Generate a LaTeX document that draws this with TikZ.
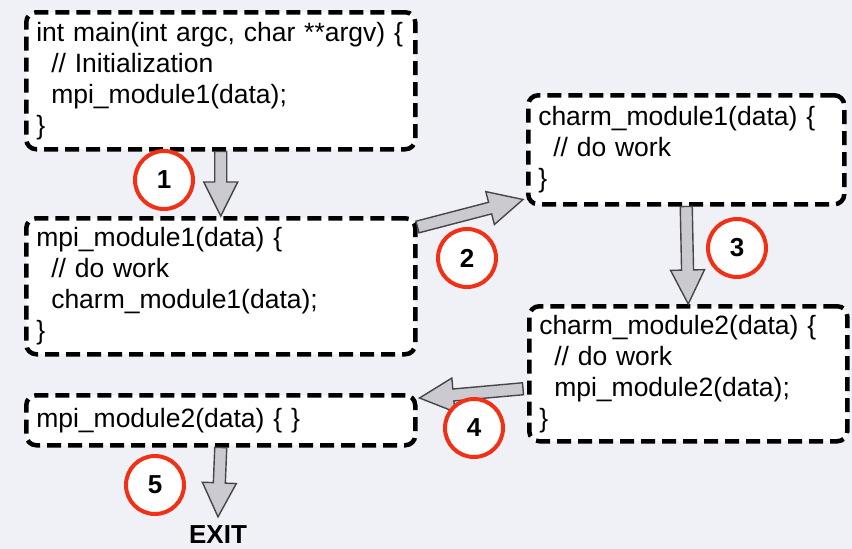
\documentclass[tikz,border=0pt]{standalone}
\usepackage{fontspec}
\setmainfont{Liberation Sans}
\usetikzlibrary{calc}
\definecolor{bgcol}{RGB}{240,240,247}
\definecolor{arrfill}{RGB}{202,202,208}
\definecolor{arrdraw}{RGB}{70,70,72}
\definecolor{numred}{RGB}{242,48,22}
\tikzset{
  codebox/.style={draw=black, fill=white, line width=4.5pt, dash pattern=on 14pt off 7pt,
    rounded corners=10pt, anchor=north west, align=left, inner xsep=10pt, inner ysep=0pt,
    font=\fontsize{26.5}{31}\selectfont},
  blk/.style={fill=arrfill, draw=arrdraw, line width=1.4pt, line join=miter},
  numcirc/.style={circle, draw=numred, fill=white, line width=4pt, minimum size=58pt,
    inner sep=0pt, font=\fontsize{26}{26}\selectfont\bfseries},
}
\newcommand\ind{\hspace*{15pt}}
\newcommand\blockarrow[2]{%
  \coordinate (bh) at ($(#2)!34pt!(#1)$);
  \draw[blk] ($(#1)!6pt!90:(#2)$) -- ($(bh)!6pt!-90:(#1)$) -- ($(bh)!17pt!-90:(#1)$)
    -- (#2) -- ($(bh)!17pt!90:(#1)$) -- ($(bh)!6pt!90:(#1)$) -- ($(#1)!6pt!-90:(#2)$) -- cycle;}
\begin{document}
\begin{tikzpicture}[x=1pt,y=-1pt]
\fill[bgcol] (0,0) rectangle (852,549);
\useasboundingbox (0,0) rectangle (852,549);

\node[codebox, text width=369pt, minimum height=137pt] (b1) at (24,10)
  {\mbox{int main(int argc, char **argv) \{}\\ \ind// Initialization\\ \ind mpi\_module1(data);\\ \}};
\node[codebox, text width=369pt, minimum height=136pt] (b2) at (24,216)
  {mpi\_module1(data) \{\\ \ind// do work\\ \ind charm\_module1(data);\\ \}};
\node[codebox, text width=296pt, minimum height=109pt] (b3) at (526,93)
  {charm\_module1(data) \{\\ \ind// do work\\ \}};
\node[codebox, text width=298pt, minimum height=135pt] (b4) at (527,304)
  {charm\_module2(data) \{\\ \ind// do work\\ \ind mpi\_module2(data);\\ \}};
\node[codebox, text width=369pt, minimum height=50pt] (b5) at (24,393)
  {mpi\_module2(data) \{ \}};
\node[inner sep=0pt, font=\fontsize{26}{26}\selectfont\bfseries] (exit) at (218,535) {EXIT};

\coordinate (a2s) at ($(b2.north east)+(0,11)$);
\coordinate (a2e) at ($(b3.south west)+(-3,-7)$);
\coordinate (a4s) at ($(b4.west)+(-4,15)$);
\coordinate (a4e) at ($(b5.north east)+(2,5)$);
\coordinate (a5e) at ($(exit.north)+(0,-9)$);

\blockarrow{b1.south}{b2.north}
\blockarrow{a2s}{a2e}
\blockarrow{b3.south}{b4.north}
\blockarrow{a4s}{a4e}
\blockarrow{b5.south}{a5e}

\node[numcirc] (c1) at (164,180) {1};
\node[numcirc] (c2) at (467,258) {2};
\node[numcirc] (c3) at (737,248) {3};
\node[numcirc] (c4) at (474,428) {4};
\node[numcirc] (c5) at (155,485) {5};
\end{tikzpicture}
\end{document}
